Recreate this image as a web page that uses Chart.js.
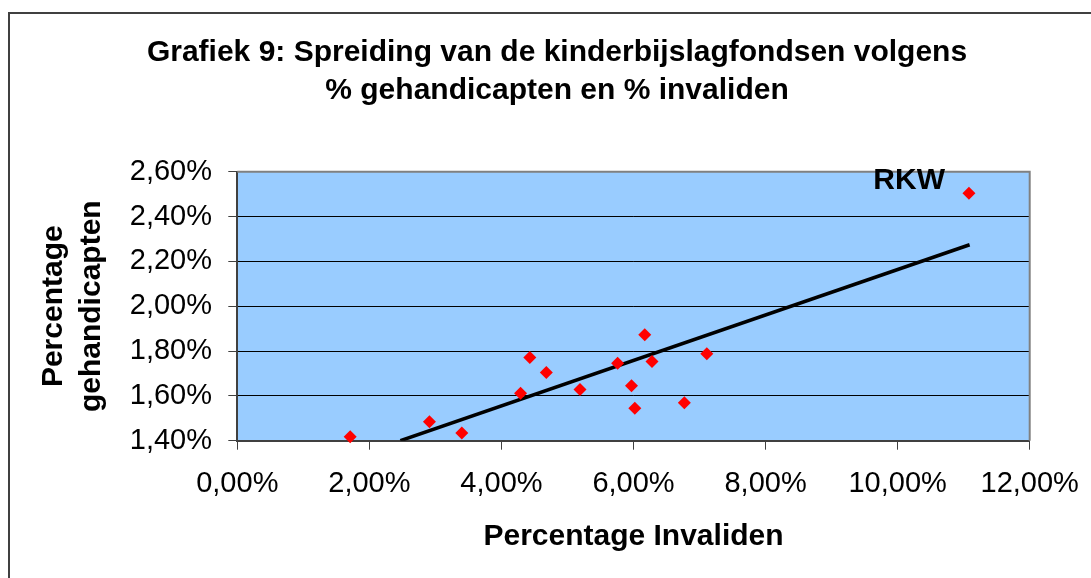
<!DOCTYPE html>
<html>
<head>
<meta charset="utf-8">
<script src="https://cdn.jsdelivr.net/npm/chart.js@4/dist/chart.umd.min.js"></script>
<style>
  html, body { margin: 0; padding: 0; background: #fff; }
  #wrap { width: 1091px; height: 578px; }
</style>
</head>
<body>
<div id="wrap"><canvas id="chart" width="1091" height="578"></canvas></div>
<script>
// % invaliden (x) and % gehandicapten (y) per kinderbijslagfonds
const invaliden = [1.71, 2.91, 3.40, 4.29, 4.43, 4.68, 5.19, 5.76, 5.97, 6.02, 6.17, 6.28, 6.77, 7.11, 11.08];
const gehandicapten = [1.418, 1.485, 1.434, 1.612, 1.771, 1.704, 1.628, 1.746, 1.645, 1.545, 1.873, 1.753, 1.569, 1.788, 2.504];
const pointNames = ['', '', '', '', '', '', '', '', '', '', '', '', '', '', 'RKW'];

// linear trend line, end points
const trendX = [2.47, 11.09];
const trendY = [1.40, 2.274];

const titleLines = ['Grafiek 9: Spreiding van de kinderbijslagfondsen volgens', '% gehandicapten en % invaliden'];
const xTitle = 'Percentage Invaliden';
const yTitle = ['Percentage', 'gehandicapten'];

const pct = (v) => v.toFixed(2).replace('.', ',') + '%';

Chart.defaults.font.family = '"Liberation Sans", Arial, sans-serif';
Chart.defaults.color = '#000';

const chartBg = {
  id: 'chartBg',
  beforeDraw(chart) {
    const {ctx, chartArea: a} = chart;
    ctx.save();
    ctx.fillStyle = '#fff';
    ctx.fillRect(0, 0, chart.width, chart.height);
    ctx.strokeStyle = '#404040';
    ctx.lineWidth = 2;
    ctx.strokeRect(9, 13, 1200, 1200);
    ctx.fillStyle = '#99CCFF';
    ctx.fillRect(a.left, a.top, a.right - a.left, a.bottom - a.top);
    ctx.restore();
  },
  beforeDatasetsDraw(chart) {
    const {ctx, chartArea: a} = chart;
    ctx.save();
    ctx.strokeStyle = '#808080';
    ctx.lineWidth = 2;
    ctx.beginPath();
    ctx.moveTo(a.left, a.top);
    ctx.lineTo(a.right, a.top);
    ctx.lineTo(a.right, a.bottom);
    ctx.stroke();
    ctx.restore();
  },
  afterDatasetsDraw(chart) {
    const {ctx} = chart;
    const meta = chart.getDatasetMeta(0);
    ctx.save();
    ctx.font = 'bold 30px "Liberation Sans", Arial, sans-serif';
    ctx.fillStyle = '#000';
    ctx.textAlign = 'right';
    ctx.textBaseline = 'alphabetic';
    meta.data.forEach((pt, i) => {
      if (pointNames[i]) ctx.fillText(pointNames[i], pt.x - 24, pt.y - 4);
    });
    ctx.restore();
  }
};

new Chart(document.getElementById('chart'), {
  type: 'scatter',
  data: {
    datasets: [{
      label: 'Fondsen',
      data: invaliden.map((x, i) => ({x: x, y: gehandicapten[i]})),
      pointStyle: 'rectRot',
      pointRadius: 6.5,
      pointHoverRadius: 6.5,
      backgroundColor: '#FF0000',
      borderWidth: 0,
      clip: false,
      order: 0
    }, {
      label: 'Trend',
      data: trendX.map((x, i) => ({x: x, y: trendY[i]})),
      showLine: true,
      borderColor: '#000',
      borderWidth: 3.5,
      pointRadius: 0,
      order: 1
    }]
  },
  options: {
    responsive: false,
    animation: false,
    devicePixelRatio: 1,
    layout: { padding: { left: 84.3, right: 61.3, top: 0, bottom: 0 } },
    plugins: {
      legend: { display: false },
      tooltip: { enabled: false },
      title: {
        display: true,
        text: titleLines,
        color: '#000',
        font: { size: 30, weight: 'bold', lineHeight: '38px' },
        padding: { top: 33.6, bottom: 62.1 }
      }
    },
    scales: {
      x: {
        type: 'linear',
        min: 0,
        max: 12,
        afterFit: (s) => { s.height = 137.3; s.paddingLeft = 0; s.paddingRight = 0; },
        ticks: { stepSize: 2, callback: (v) => pct(v), font: { size: 29 }, padding: 17, maxRotation: 0, autoSkip: false },
        grid: { drawOnChartArea: false, tickLength: 9, tickColor: '#404040', lineWidth: 1 },
        border: { display: true, color: '#404040', width: 2 },
        title: { display: true, text: xTitle, font: { size: 30, weight: 'bold' }, padding: { top: 0, bottom: 23.4 } }
      },
      y: {
        type: 'linear',
        min: 1.4,
        max: 2.6,
        afterFit: (s) => { s.width = 153; },
        ticks: { stepSize: 0.2, callback: (v) => pct(v), font: { size: 29 }, padding: 16.3 },
        grid: { color: '#000', lineWidth: 1, tickLength: 9, tickColor: '#404040' },
        border: { display: true, color: '#404040', width: 2 },
        title: { display: true, text: yTitle, font: { size: 30, weight: 'bold', lineHeight: '38px' }, padding: { top: -49.8, bottom: 0 } }
      }
    }
  },
  plugins: [chartBg]
});
</script>
</body>
</html>
